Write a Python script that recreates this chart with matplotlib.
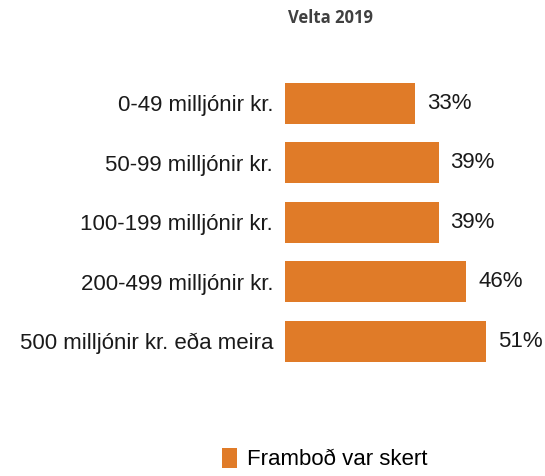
import matplotlib.pyplot as plt
import numpy as np

plt.rcParams['font.family'] = ['Liberation Sans', 'DejaVu Sans']

categories = ['0-49 milljónir kr.', '50-99 milljónir kr.', '100-199 milljónir kr.',
              '200-499 milljónir kr.', '500 milljónir kr. eða meira']
values = [33, 39, 39, 46, 51]
series_name = 'Framboð var skert'
title = 'Velta 2019'

bar_color = '#E07B28'

fig = plt.figure(figsize=(5.45, 4.76), dpi=100)
ax = fig.add_axes([285 / 545, 0.221, 236.5 / 545, 0.625])

y = np.arange(len(categories))
bars = ax.barh(y, values, height=0.69, color=bar_color, label=series_name)
ax.set_xlim(0, 60)
ax.set_ylim(len(categories) - 0.5, -0.5)

for yi, v in zip(y, values):
    ax.annotate(f'{v}%', (v, yi), xytext=(8.5, 0), textcoords='offset points',
                va='center', ha='left', fontsize=16, color='#1a1a1a')

ax.set_yticks(y)
ax.set_yticklabels(categories, fontsize=16, color='#1a1a1a')
ax.tick_params(axis='y', length=0, pad=8.5)
ax.set_xticks([])
for s in ax.spines.values():
    s.set_visible(False)

fig.text(330 / 545, 1 - 18 / 476, title, ha='center', va='center',
         fontsize=12, fontweight='bold', color='#404040', family=['Open Sans', 'DejaVu Sans'])

fig.legend(handles=[bars], labels=[series_name], loc='center',
           bbox_to_anchor=(325 / 545, 1 - 459 / 476), frameon=False,
           fontsize=16, handlelength=0.68, handleheight=1.05, handletextpad=0.45)

plt.savefig('out.png', dpi=100)
